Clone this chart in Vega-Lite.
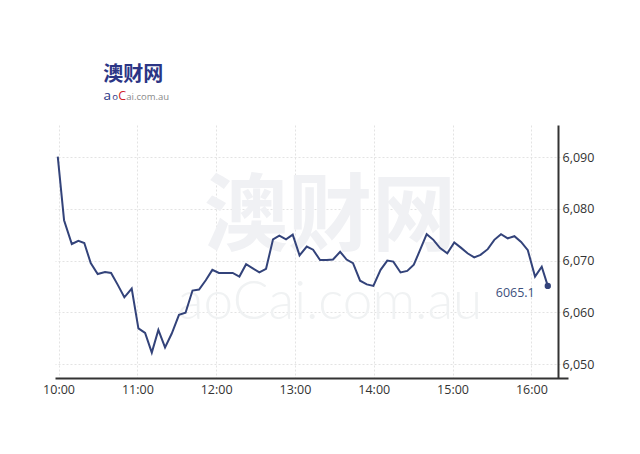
{
  "$schema": "https://vega.github.io/schema/vega-lite/v6.json",
  "width": 513,
  "height": 253,
  "autosize": {"type": "none"},
  "padding": {"left": 55, "top": 125, "right": 72, "bottom": 76},
  "background": "white",
  "config": {"view": {"stroke": null}},
  "datasets": {
    "prices": [
      {"m": -0.6, "v": 6090.1}, {"m": 4.2, "v": 6077.8}, {"m": 10.1, "v": 6073.2}, {"m": 15.1, "v": 6073.8},
      {"m": 19.6, "v": 6073.4}, {"m": 24.5, "v": 6069.5}, {"m": 29.8, "v": 6067.4}, {"m": 35.4, "v": 6067.8},
      {"m": 40.0, "v": 6067.6}, {"m": 45.1, "v": 6065.3}, {"m": 50.1, "v": 6062.9}, {"m": 55.7, "v": 6064.6},
      {"m": 60.8, "v": 6056.9}, {"m": 65.9, "v": 6056.0}, {"m": 71.0, "v": 6052.2}, {"m": 76.0, "v": 6056.6},
      {"m": 81.1, "v": 6053.2}, {"m": 86.2, "v": 6055.9}, {"m": 91.7, "v": 6059.5}, {"m": 96.7, "v": 6059.9},
      {"m": 102.0, "v": 6064.2}, {"m": 107.0, "v": 6064.4}, {"m": 112.1, "v": 6066.2}, {"m": 117.1, "v": 6068.2},
      {"m": 122.1, "v": 6067.6}, {"m": 127.5, "v": 6067.6}, {"m": 132.6, "v": 6067.6}, {"m": 137.7, "v": 6066.9},
      {"m": 142.8, "v": 6069.3}, {"m": 147.9, "v": 6068.5}, {"m": 152.9, "v": 6067.7}, {"m": 158.0, "v": 6068.4},
      {"m": 163.3, "v": 6074.1}, {"m": 168.1, "v": 6074.8}, {"m": 173.2, "v": 6074.1}, {"m": 178.3, "v": 6075.0},
      {"m": 183.5, "v": 6071.0}, {"m": 189.0, "v": 6072.7}, {"m": 193.8, "v": 6072.1}, {"m": 199.1, "v": 6070.1},
      {"m": 204.2, "v": 6070.1}, {"m": 209.0, "v": 6070.2}, {"m": 214.4, "v": 6071.7}, {"m": 219.3, "v": 6070.2},
      {"m": 224.2, "v": 6069.5}, {"m": 229.6, "v": 6066.1}, {"m": 234.7, "v": 6065.4}, {"m": 239.7, "v": 6065.1},
      {"m": 245.2, "v": 6068.2}, {"m": 250.3, "v": 6070.0}, {"m": 254.9, "v": 6069.8}, {"m": 260.4, "v": 6067.7},
      {"m": 265.5, "v": 6068.0}, {"m": 270.5, "v": 6069.2}, {"m": 275.2, "v": 6072.0}, {"m": 280.3, "v": 6075.1},
      {"m": 285.4, "v": 6074.0}, {"m": 290.5, "v": 6072.4}, {"m": 296.0, "v": 6071.4}, {"m": 301.3, "v": 6073.5},
      {"m": 306.3, "v": 6072.5}, {"m": 311.4, "v": 6071.4}, {"m": 316.5, "v": 6070.6}, {"m": 321.3, "v": 6071.1},
      {"m": 326.8, "v": 6072.2}, {"m": 331.8, "v": 6074.0}, {"m": 336.9, "v": 6075.1}, {"m": 342.0, "v": 6074.3},
      {"m": 347.1, "v": 6074.7}, {"m": 352.2, "v": 6073.6}, {"m": 357.3, "v": 6072.0}, {"m": 362.8, "v": 6066.9},
      {"m": 367.9, "v": 6068.8}, {"m": 372.5, "v": 6065.1}
    ]
  },
  "encoding": {
    "x": {
      "field": "m", "type": "quantitative",
      "scale": {"domain": [-2.7, 387.9], "nice": false, "zero": false},
      "axis": {
        "title": null, "values": [0, 60, 120, 180, 240, 300, 360],
        "labelExpr": "(10 + datum.value/60) + ':00'",
        "ticks": false, "labelFlush": false, "labelPadding": 5,
        "labelFont": "Open Sans", "labelFontSize": 12.5, "labelColor": "#333333",
        "domainColor": "#333333", "domainWidth": 2,
        "gridColor": "#e3e3e3", "gridDash": [2, 2], "gridWidth": 1
      }
    },
    "y": {
      "field": "v", "type": "quantitative",
      "scale": {"domain": [6047.3, 6096.2], "nice": false, "zero": false},
      "axis": {
        "title": null, "orient": "right", "offset": -10,
        "values": [6050, 6060, 6070, 6080, 6090], "format": ",d",
        "ticks": false, "labelPadding": 4,
        "labelFont": "Open Sans", "labelFontSize": 12.5, "labelColor": "#333333",
        "domainColor": "#333333", "domainWidth": 2,
        "gridColor": "#e3e3e3", "gridDash": [2, 2], "gridWidth": 1
      }
    }
  },
  "layer": [
    {
      "data": {"values": [{"m": 206.7, "v": 6078.0, "label": "澳财网"}]},
      "mark": {"type": "text", "font": "Noto Sans CJK SC", "fontWeight": "bold", "fontSize": 84, "color": "#f0f1f4", "align": "center", "baseline": "middle"},
      "encoding": {"text": {"field": "label"}}
    },
    {
      "data": {"values": [{"m": 206.7, "v": 6061.8, "label": "aoCai.com.au"}]},
      "mark": {"type": "text", "font": "Lato", "fontWeight": 300, "fontSize": 53, "color": "#f0f2f3", "align": "center", "baseline": "middle"},
      "encoding": {"text": {"field": "label"}}
    },
    {
      "data": {"name": "prices"},
      "mark": {"type": "line", "color": "#33437a", "strokeWidth": 2, "interpolate": "linear"}
    },
    {
      "data": {"name": "prices"},
      "transform": [{"filter": "datum.m > 370"}],
      "mark": {"type": "circle", "color": "#33437a", "size": 40, "opacity": 1}
    },
    {
      "data": {"name": "prices"},
      "transform": [{"filter": "datum.m > 370"}],
      "mark": {"type": "text", "font": "Open Sans", "fontSize": 12.5, "color": "#3d4f7c", "align": "right", "baseline": "middle", "dx": -13, "dy": 7},
      "encoding": {"text": {"field": "v", "format": ".1f"}}
    },
    {
      "data": {"values": [{"m": 34.1, "v": 6105.8, "label": "澳财网"}]},
      "mark": {"type": "text", "font": "Noto Sans CJK SC", "fontWeight": "bold", "fontSize": 20, "color": "#2b3585", "align": "left", "baseline": "middle"},
      "encoding": {"text": {"field": "label"}}
    },
    {
      "data": {"values": [{"m": 34.3, "v": 6100.95, "label": "a"}]},
      "mark": {"type": "text", "font": "Open Sans", "fontSize": 13.5, "color": "#2b3585", "align": "left", "baseline": "alphabetic"},
      "encoding": {"text": {"field": "label"}}
    },
    {
      "data": {"values": [{"m": 40.9, "v": 6100.95, "label": "o"}]},
      "mark": {"type": "text", "font": "Open Sans", "fontSize": 9.5, "color": "#2b3585", "align": "left", "baseline": "alphabetic"},
      "encoding": {"text": {"field": "label"}}
    },
    {
      "data": {"values": [{"m": 45.5, "v": 6100.95, "label": "C"}]},
      "mark": {"type": "text", "font": "Open Sans", "fontSize": 12.5, "color": "#d2232a", "align": "left", "baseline": "alphabetic"},
      "encoding": {"text": {"field": "label"}}
    },
    {
      "data": {"values": [{"m": 51.6, "v": 6100.95, "label": "ai.com.au"}]},
      "mark": {"type": "text", "font": "Open Sans", "fontSize": 9.5, "color": "#8a8a8a", "align": "left", "baseline": "alphabetic"},
      "encoding": {"text": {"field": "label"}}
    }
  ]
}
